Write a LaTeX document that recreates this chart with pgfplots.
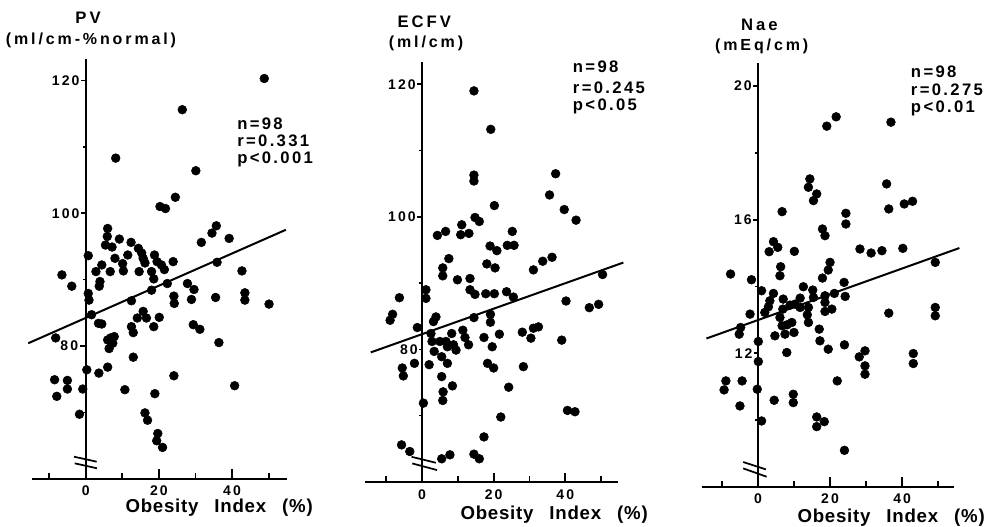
\documentclass[border=0pt]{standalone}
\usepackage{pgfplots}
\pgfplotsset{compat=1.18}
\usepackage{fontspec}
\setmainfont{Liberation Sans}
\newfontfamily\ttlfont{Liberation Sans Bold}[LetterSpace=18]
\newfontfamily\statfont{Liberation Sans Bold}[LetterSpace=14]
\newfontfamily\tickfont{Liberation Sans Bold}[LetterSpace=15]
\newfontfamily\labfont{Liberation Sans Bold}[LetterSpace=4]
\newcommand\ttl{\ttlfont\fontsize{12.5pt}{14pt}\selectfont}
\newcommand\unitf{\ttlfont\fontsize{12pt}{14pt}\selectfont}
\newcommand\stat{\statfont\fontsize{12.5pt}{14pt}\selectfont}
\newcommand\tickf{\tickfont\fontsize{10.5pt}{12pt}\selectfont}
\newcommand\xlab{\labfont\fontsize{14pt}{16pt}\selectfont}

\pgfplotsset{
 panel/.style={
   scale only axis, anchor=south west, clip=false,
   axis x line*=bottom, axis y line=none,
   axis line style={line width=1.4pt, -},
   xtick={0,20,40}, minor xtick={-10,10,30,50},
   tick align=inside,
   major tick length=7pt, minor tick length=4.5pt,
   tick style={line width=1.3pt, black},
   ytick=\empty,
   xticklabel style={font=\tickf, yshift=-2pt},
   /pgf/number format/assume math mode=true,
 },
 dots/.style={only marks, mark=*, mark size=3.3pt, black},
 reg/.style={no marks, line width=1.5pt, black},
}

\begin{document}
\begin{tikzpicture}
\useasboundingbox (0,0) rectangle (745.5pt,395.25pt);

% ---------------- Panel 1: PV ----------------
\begin{axis}[panel, at={(23.925pt,36.3pt)}, width=191.3pt, height=314.5pt,
  xmin=-14.7, xmax=55, ymin=60, ymax=123.2]
\addplot[dots] coordinates {
(48.8,120.3) (26.4,115.6) (8.2,108.3) (30.1,106.4)
(24.5,102.4) (20.3,101.0) (21.8,100.7) (6.0,97.7) (5.9,96.5) (5.4,95.2) (7.2,94.9) (9.2,96.1) (12.4,95.6) (14.4,94.7) (15.3,94.0) (15.7,93.2) (16.2,92.5) (18.8,93.7) (19.5,92.7) (20.7,92.2) (21.5,91.5) (23.9,92.7) (0.7,93.6) (8.0,93.2) (4.4,92.2) (6.7,91.2) (10.1,92.4) (11.5,93.7) (10.3,91.3) (2.8,91.2) (3.9,89.7) (3.7,89.0) (14.6,91.2) (18.0,91.2) (18.6,90.1) (22.3,89.4) (18.0,88.4) (-6.5,90.7) (-3.8,89.0) (0.7,87.9) (0.9,86.9) (12.5,86.8) (24.1,87.5) (24.2,86.4) (27.8,89.4) (29.6,88.5) (28.9,87.0) (35.5,87.3) (35.9,92.6) (31.6,95.6) (34.5,97.0) (35.7,98.1) (39.2,96.2) (42.7,91.3) (43.5,88.0) (43.5,86.9) (50.1,86.3) (1.6,84.7) (3.5,83.4) (4.4,83.3) (12.5,82.9) (13.0,82.0) (14.1,84.2) (15.7,85.2) (16.6,84.2) (18.6,82.9) (20.1,84.3) (29.4,83.2) (31.2,82.5) (36.4,80.5) (-8.2,81.2) (6.0,80.9) (6.8,81.2) (7.8,81.4) (6.4,79.6) (7.4,80.4) (13.0,78.3) (0.3,76.4) (3.6,75.9) (6.0,76.8) (-8.5,74.9) (-5.0,74.8) (-5.0,73.5) (-7.9,72.4) (-0.8,73.5) (10.7,73.4) (18.9,72.8) (24.1,75.5) (40.7,74.0) (-1.7,69.7) (16.2,69.9) (16.9,68.8) (19.7,66.8) (19.4,65.7) (21.0,64.7)
};
\addplot[reg] coordinates {(-15.7,80.4) (54.7,97.5)};
\draw[line width=1.4pt] (axis cs:0,60) -- (axis cs:0,123.2);
\draw[line width=1.3pt] (axis cs:0,120) -- ++(-3.5pt,0pt) node[anchor=east, inner sep=0.5pt, font=\tickf]{120};
\draw[line width=1.3pt] (axis cs:0,100) -- ++(-3.5pt,0pt) node[anchor=east, inner sep=0.5pt, font=\tickf]{100};
\draw[line width=1.3pt] (axis cs:0,80) -- ++(-4.5pt,0pt) node[anchor=east, inner sep=0.5pt, font=\tickf]{80};
\draw[line width=1pt] (axis cs:0,110) -- ++(-2pt,0pt);
\draw[line width=1pt] (axis cs:0,90) -- ++(-2pt,0pt);
\draw[line width=1pt] (axis cs:0,70) -- ++(-2pt,0pt);
\draw[line width=1.3pt] (axis cs:-3.2,63.3) -- (axis cs:3.0,62.55);
\draw[line width=1.3pt] (axis cs:-3.0,62.3) -- (axis cs:3.1,61.55);
\end{axis}

% ---------------- Panel 2: ECFV ----------------
\begin{axis}[panel, at={(273.75pt,33.75pt)}, width=190.0pt, height=315.2pt,
  xmin=-15.9, xmax=54.8, ymin=60, ymax=123.4]
\addplot[dots] coordinates {
(35.6,103.3) (20.2,101.7) (39.7,101.1) (43.0,99.5) (14.8,99.9) (16.0,99.3) (11.1,98.8) (10.8,97.3) (13.1,97.5) (4.3,97.2) (6.6,97.8) (25.2,97.8) (23.8,95.7) (25.7,95.7) (19.0,95.6) (20.9,94.9) (36.3,93.9) (33.7,93.3) (31.1,92.0) (18.1,92.9) (20.4,92.3) (7.5,93.7) (5.8,92.3) (5.8,91.1) (9.9,90.5) (13.4,90.7) (50.4,91.3) (13.4,89.0) (14.8,88.3) (17.8,88.4) (20.2,88.4) (23.6,88.7) (25.5,87.9) (1.1,89.0) (1.1,87.7) (-6.3,87.8) (-8.2,85.3) (-8.9,84.4) (40.2,87.3) (46.7,86.3) (49.3,86.8) (3.9,84.9) (3.2,84.2) (-1.3,83.3) (2.5,82.4) (2.8,81.2) (5.0,81.2) (6.7,81.2) (8.3,82.4) (8.8,80.7) (7.1,80.4) (11.4,82.9) (12.0,81.8) (13.0,80.7) (9.5,79.9) (14.5,84.8) (19.1,85.3) (19.1,84.1) (17.3,81.8) (19.6,80.4) (21.6,82.3) (28.0,82.6) (30.4,81.7) (31.1,83.2) (32.5,83.4) (39.0,81.4) (3.4,79.7) (5.5,78.9) (7.1,77.9) (-2.1,77.9) (2.0,77.7) (-5.5,77.2) (-5.2,76.0) (18.3,77.9) (20.0,77.2) (28.3,77.4) (5.5,75.9) (8.5,74.5) (5.9,73.6) (5.8,72.3) (24.2,74.3) (0.4,71.9) (40.6,70.8) (42.7,70.6) (22.0,69.8)
(14.5,119.0) (19.2,113.2) (14.5,106.3) (14.5,105.4) (37.3,106.5) (17.3,66.8) (-5.7,65.6) (-3.4,64.6) (5.5,63.5) (7.8,64.1) (14.5,64.2) (16.0,63.5)
};
\addplot[reg] coordinates {(-14.3,79.55) (56.2,93.1)};
\draw[line width=1.4pt] (axis cs:0,60) -- (axis cs:0,123.4);
\draw[line width=1.3pt] (axis cs:0,120) -- ++(-3.5pt,0pt) node[anchor=east, inner sep=0.5pt, font=\tickf]{120};
\draw[line width=1.3pt] (axis cs:0,100) -- ++(-3.5pt,0pt) node[anchor=east, inner sep=0.5pt, font=\tickf]{100};
\draw[line width=1.3pt] (axis cs:0,80) -- ++(-2pt,0pt) node[anchor=east, inner sep=0.5pt, font=\tickf]{80};
\draw[line width=1pt] (axis cs:0,110) -- ++(-2pt,0pt);
\draw[line width=1pt] (axis cs:0,90) -- ++(-2pt,0pt);
\draw[line width=1pt] (axis cs:0,70) -- ++(-2pt,0pt);
\draw[line width=1.3pt] (axis cs:-2.9,63.8) -- (axis cs:3.9,62.9);
\draw[line width=1.3pt] (axis cs:-2.7,62.8) -- (axis cs:4.2,61.8);
\end{axis}

% ---------------- Panel 3: Nae ----------------
\begin{axis}[panel, at={(526.3pt,30.2pt)}, width=189.2pt, height=318pt,
  xmin=-15.6, xmax=54.4, ymin=8, ymax=20.7]
\addplot[dots] coordinates {
(35.7,17.07) (14.0,16.97) (16.3,16.77) (15.4,16.57) (36.3,16.32) (40.6,16.47) (42.9,16.55) (24.4,16.19) (24.4,15.87) (6.7,16.24) (17.9,15.72) (18.6,15.52) (4.3,15.34) (5.5,15.17) (3.1,15.04) (10.1,15.05) (28.3,15.12) (31.4,15.00) (34.4,15.07) (40.2,15.14) (49.2,14.72) (6.3,14.59) (6.1,14.32) (20.0,14.72) (19.5,14.49) (17.9,14.25) (-7.6,14.37) (-1.8,14.20) (23.9,14.12) (24.2,13.70) (21.2,13.79) (18.6,13.72) (18.6,13.52) (18.6,13.25) (20.5,13.32) (15.2,13.89) (15.4,13.67) (12.6,13.99) (11.7,13.65) (10.3,13.47) (11.7,13.37) (14.0,13.37) (13.7,13.15) (14.0,12.92) (8.9,13.44) (7.0,13.62) (6.9,13.32) (6.1,13.07) (6.7,12.82) (8.1,12.85) (9.4,12.92) (10.0,12.62) (7.5,12.57) (4.7,12.52) (4.3,13.79) (3.3,13.57) (2.9,13.39) (1.0,13.87) (1.9,13.22) (-2.2,13.17) (-4.8,12.77) (-5.2,12.57) (17.0,12.72) (17.2,12.37) (19.5,12.12) (24.0,12.25) (36.3,13.20) (49.2,13.37) (49.2,13.12) (8.0,12.02) (0.1,12.35) (0.1,11.75) (28.1,11.89) (29.7,12.07) (29.7,11.62) (29.7,11.37) (43.1,11.99) (43.1,11.69) (-8.9,11.17) (-9.4,10.90) (-4.4,11.17) (-0.2,10.92) (22.0,11.17) (4.5,10.59) (9.8,10.77) (9.8,10.52) (-5.0,10.42)
(19.1,18.80) (21.7,19.08) (36.9,18.92) (14.4,17.22) (1.0,9.97) (16.3,10.09) (16.3,9.80) (18.4,9.95) (24.0,9.09)
};
\addplot[reg] coordinates {(-14.3,12.44) (55.9,15.15)};
\draw[line width=1.4pt] (axis cs:0,8) -- (axis cs:0,20.7);
\draw[line width=1.3pt] (axis cs:0,20) -- ++(-3.5pt,0pt) node[anchor=east, inner sep=0.5pt, font=\tickf]{20};
\draw[line width=1.3pt] (axis cs:0,16) -- ++(-3.5pt,0pt) node[anchor=east, inner sep=0.5pt, font=\tickf]{16};
\draw[line width=1.3pt] (axis cs:0,12) -- ++(-3pt,0pt) node[anchor=east, inner sep=0.5pt, font=\tickf]{12};
\draw[line width=1pt] (axis cs:0,18) -- ++(-2pt,0pt);
\draw[line width=1pt] (axis cs:0,14) -- ++(-2pt,0pt);
\draw[line width=1pt] (axis cs:0,10) -- ++(-2pt,0pt);
\draw[line width=1.3pt] (axis cs:-4.1,8.74) -- (axis cs:2.2,8.52);
\draw[line width=1.3pt] (axis cs:-4.1,8.55) -- (axis cs:2.4,8.30);
\end{axis}

% ---------------- Texts (pixel coordinates, y down) ----------------
\begin{scope}[x=0.75pt,y=-0.75pt,shift={(0pt,395.25pt)}]
\node[font=\ttl, inner sep=0pt] at (88,18) {PV};
\node[font=\unitf, inner sep=0pt] at (91,40) {(ml/cm-\%normal)};
\node[font=\stat, inner sep=0pt, anchor=west] at (237,123.3) {n=98};
\node[font=\stat, inner sep=0pt, anchor=west] at (237,140.7) {r=0.331};
\node[font=\stat, inner sep=0pt, anchor=west] at (237,159.3) {p<0.001};
\node[font=\xlab, inner sep=0pt, anchor=east] at (313,508) {Obesity\hspace{12pt}Index\hspace{12pt}(\%)};

\node[font=\ttl, inner sep=0pt] at (424.3,21.7) {ECFV};
\node[font=\unitf, inner sep=0pt] at (426,43.3) {(ml/cm)};
\node[font=\stat, inner sep=0pt, anchor=west] at (572.7,66.7) {n=98};
\node[font=\stat, inner sep=0pt, anchor=west] at (572.7,87.3) {r=0.245};
\node[font=\stat, inner sep=0pt, anchor=west] at (572.7,106.7) {p<0.05};
\node[font=\xlab, inner sep=0pt, anchor=east] at (648,515) {Obesity\hspace{12pt}Index\hspace{12pt}(\%)};

\node[font=\ttl, inner sep=0pt] at (759.3,25) {Nae};
\node[font=\unitf, inner sep=0pt] at (761.7,46.7) {(mEq/cm)};
\node[font=\stat, inner sep=0pt, anchor=west] at (910.7,71.7) {n=98};
\node[font=\stat, inner sep=0pt, anchor=west] at (910.7,90) {r=0.275};
\node[font=\stat, inner sep=0pt, anchor=west] at (910.7,108.3) {p<0.01};
\node[font=\xlab, inner sep=0pt, anchor=east] at (985,518) {Obesity\hspace{12pt}Index\hspace{12pt}(\%)};
\end{scope}
\end{tikzpicture}
\end{document}
